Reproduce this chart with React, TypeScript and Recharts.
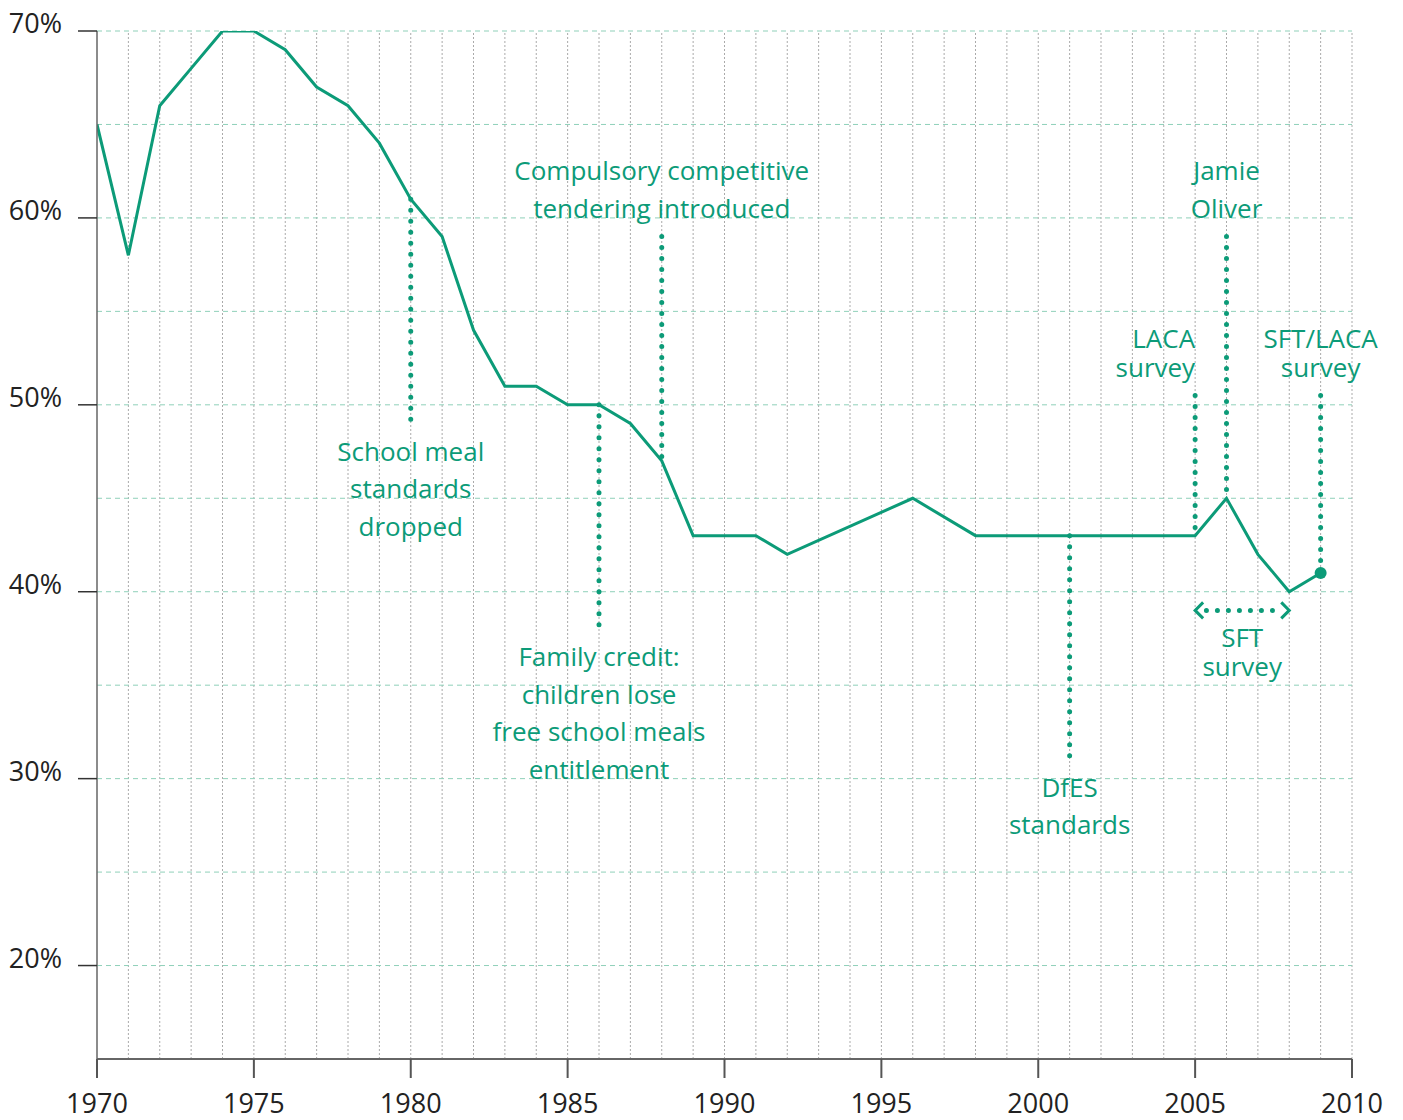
import React from 'react';
import { LineChart, Line, XAxis, YAxis, ReferenceLine, ReferenceDot } from 'recharts';

const years = [1970, 1971, 1972, 1973, 1974, 1975, 1976, 1977, 1978, 1979, 1980, 1981, 1982, 1983, 1984, 1985, 1986, 1987, 1988, 1989, 1990, 1991, 1992, 1996, 1998, 1999, 2000, 2001, 2002, 2003, 2004, 2005, 2006, 2007, 2008, 2009];
const shares = [65, 58, 66, 68, 70, 70, 69, 67, 66, 64, 61, 59, 54, 51, 51, 50, 50, 49, 47, 43, 43, 43, 42, 45, 43, 43, 43, 43, 43, 43, 43, 43, 45, 42, 40, 41];

const yearTicks = [1970, 1975, 1980, 1985, 1990, 1995, 2000, 2005, 2010];
const pctTicks = [20, 30, 40, 50, 60, 70];
const gridPcts = [20, 25, 30, 35, 40, 45, 50, 55, 60, 65, 70];
const gridYears = [1971, 1972, 1973, 1974, 1975, 1976, 1977, 1978, 1979, 1980, 1981, 1982, 1983, 1984, 1985, 1986, 1987, 1988, 1989, 1990, 1991, 1992, 1993, 1994, 1995, 1996, 1997, 1998, 1999, 2000, 2001, 2002, 2003, 2004, 2005, 2006, 2007, 2008, 2009, 2010];

const markerYears = [1980, 1986, 1988, 2001, 2005, 2006, 2009];
const markerFrom = [61, 50, 59, 43, 50.5, 59, 50.5];
const markerTo = [49, 38, 47, 31, 43, 45, 41];

const labelYears = [1980, 1988, 1986, 2001, 2005, 2006, 2009, 2006.5];
const labelPcts = [47.5, 62.5, 36.5, 29.5, 53.5, 62.5, 53.5, 37.5];
const labelTexts = [
  ['School meal', 'standards', 'dropped'],
  ['Compulsory competitive', 'tendering introduced'],
  ['Family credit:', 'children lose', 'free school meals', 'entitlement'],
  ['DfES', 'standards'],
  ['LACA', 'survey'],
  ['Jamie', 'Oliver'],
  ['SFT/LACA', 'survey'],
  ['SFT', 'survey'],
];
const labelGaps = [37.5, 38, 37.5, 37, 28.5, 38, 28.5, 29];
const labelAnchors = ['middle', 'middle', 'middle', 'middle', 'end', 'middle', 'middle', 'middle'];

const sftStart = 2005;
const sftEnd = 2008;
const sftPct = 39;
const endYear = 2009;
const endPct = 41;

const data = years.map((y, i) => ({ year: y, share: shares[i] }));

const TEAL = '#0c9b78';
const FONT = '"Open Sans", "Noto Sans", sans-serif';

const YTick = (props: any) => {
  const { x, y, payload } = props;
  return (
    <text x={x - 14} y={y + 2} textAnchor="end" fontSize={27} fill="#222" fontFamily={FONT}>
      {payload.value}%
    </text>
  );
};

const XTick = (props: any) => {
  const { x, y, payload } = props;
  return (
    <text x={x} y={y + 33} textAnchor="middle" fontSize={27} fill="#222" fontFamily={FONT}>
      {payload.value}
    </text>
  );
};

const makeLabel = (lines: string[], gap: number, anchor: string) => (props: any) => {
  const { cx, cy } = props;
  return (
    <text x={cx} y={cy + 9} textAnchor={anchor as any} fontSize={26} fill={TEAL} fontFamily={FONT}>
      {lines.map((t, i) => (
        <tspan key={i} x={cx} dy={i === 0 ? 0 : gap}>
          {t}
        </tspan>
      ))}
    </text>
  );
};

const DotLine = (props: any) => {
  const { x1, y1, x2, y2 } = props;
  return (
    <line
      x1={x1}
      y1={y1}
      x2={x2}
      y2={y2}
      stroke={TEAL}
      strokeWidth={5}
      strokeDasharray="0 11"
      strokeLinecap="round"
    />
  );
};

const LeftChevron = (props: any) => {
  const { cx, cy } = props;
  return <path d={`M${cx + 8},${cy - 8} L${cx},${cy} L${cx + 8},${cy + 8}`} fill="none" stroke={TEAL} strokeWidth={3} />;
};
const RightChevron = (props: any) => {
  const { cx, cy } = props;
  return <path d={`M${cx - 8},${cy - 8} L${cx},${cy} L${cx - 8},${cy + 8}`} fill="none" stroke={TEAL} strokeWidth={3} />;
};
const EndDot = (props: any) => {
  const { cx, cy } = props;
  return <circle cx={cx} cy={cy} r={6} fill={TEAL} />;
};

export default function App() {
  return (
    <div style={{ position: 'absolute', left: 0, top: 0, fontFamily: FONT }}>
      <LineChart width={1403} height={1120} data={data} margin={{ top: 31, right: 51, left: 0, bottom: 0 }}>
        <XAxis
          dataKey="year"
          type="number"
          domain={[1970, 2010]}
          ticks={yearTicks}
          tickSize={19}
          height={61}
          tick={<XTick />}
          axisLine={{ stroke: '#666', strokeWidth: 2 }}
          tickLine={{ stroke: '#555', strokeWidth: 2 }}
          allowDataOverflow
        />
        <YAxis
          type="number"
          domain={[15, 70]}
          ticks={pctTicks}
          tickSize={19}
          width={97}
          tick={<YTick />}
          axisLine={{ stroke: '#666', strokeWidth: 1.5 }}
          tickLine={{ stroke: '#333', strokeWidth: 1.5 }}
          allowDataOverflow
        />
        {gridYears.map((yr) => (
          <ReferenceLine key={'gx' + yr} x={yr} stroke="#aaaaaa" strokeWidth={1} strokeDasharray="2 2" />
        ))}
        {gridPcts.map((p) => (
          <ReferenceLine key={'gy' + p} y={p} stroke="#8fd0b9" strokeWidth={1} strokeDasharray="5 4" />
        ))}
        <Line
          type="linear"
          dataKey="share"
          stroke={TEAL}
          strokeWidth={3}
          dot={false}
          activeDot={false}
          isAnimationActive={false}
        />
        {markerYears.map((yr, i) => (
          <ReferenceLine
            key={'m' + i}
            segment={[{ x: yr, y: markerFrom[i] }, { x: yr, y: markerTo[i] }]}
            shape={DotLine}
          />
        ))}
        <ReferenceLine
          segment={[{ x: sftStart + 0.36, y: sftPct }, { x: sftEnd - 0.3, y: sftPct }]}
          shape={DotLine}
        />
        <ReferenceDot x={sftStart} y={sftPct} r={0} shape={LeftChevron} />
        <ReferenceDot x={sftEnd} y={sftPct} r={0} shape={RightChevron} />
        <ReferenceDot x={endYear} y={endPct} r={6} shape={EndDot} />
        {labelYears.map((yr, i) => (
          <ReferenceDot
            key={'l' + i}
            x={yr}
            y={labelPcts[i]}
            r={0}
            shape={makeLabel(labelTexts[i], labelGaps[i], labelAnchors[i])}
          />
        ))}
      </LineChart>
    </div>
  );
}
